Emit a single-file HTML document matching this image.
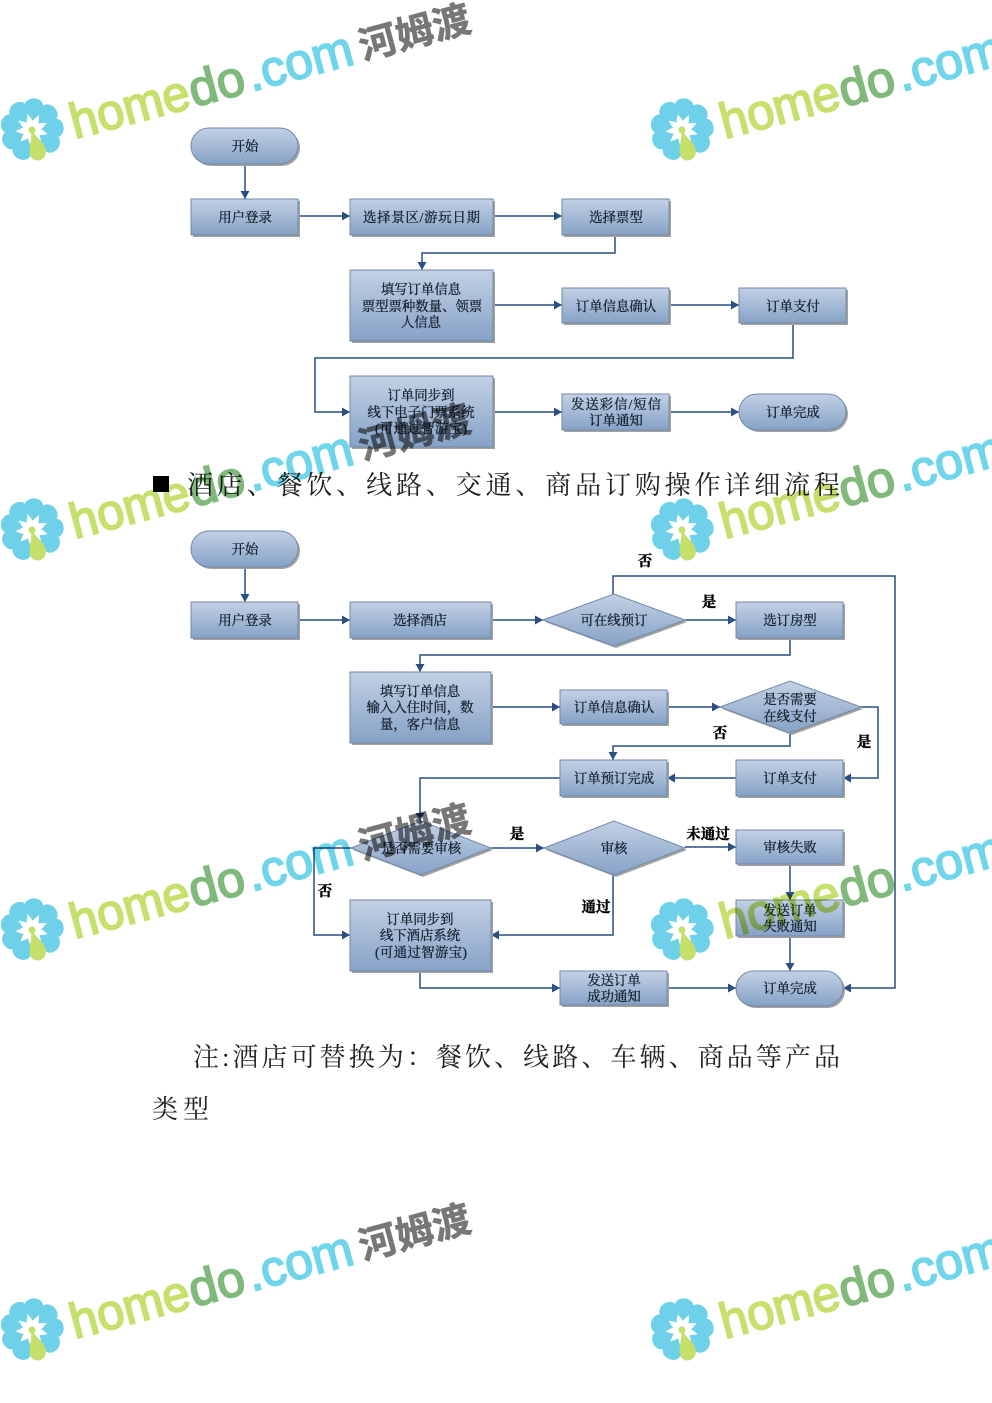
<!DOCTYPE html>
<html><head><meta charset="utf-8"><style>
html,body{margin:0;padding:0;background:#fff}
svg{display:block}
.t{font-family:"Liberation Serif","Noto Serif CJK SC",serif;font-size:13.4px;fill:#14202e;stroke:#14202e;stroke-width:.3;text-anchor:middle}
.b{font-family:"Liberation Serif","Noto Serif CJK SC",serif;font-size:14.5px;font-weight:700;fill:#000;stroke:#000;stroke-width:.4;text-anchor:middle}
.p{font-family:"Liberation Serif","Noto Serif CJK SC",serif;font-size:26px;fill:#222}
.s{fill:url(#g);stroke:#7389a8;stroke-width:1}
.sh{fill:#a2a2a2}
.c{fill:none;stroke:#2a4f80;stroke-width:1.5}
.wm{font-family:"Liberation Sans",sans-serif;font-size:50px;stroke-width:1.8}
.wc{font-family:"Liberation Sans","Noto Sans CJK SC",sans-serif;font-size:38px;font-weight:700;fill:#777;stroke:#777;stroke-width:.6}
</style></head><body>
<svg width="992" height="1403" viewBox="0 0 992 1403" xmlns="http://www.w3.org/2000/svg">
<defs>
<linearGradient id="g" x1="0" y1="0" x2="0" y2="1"><stop offset="0" stop-color="#c3d1e5"/><stop offset="1" stop-color="#86a2c6"/></linearGradient>
<marker id="a" markerWidth="10" markerHeight="10" refX="8" refY="4.5" orient="auto" markerUnits="userSpaceOnUse"><path d="M0,0 L8,4.5 L0,9 Z" fill="#2a4f80"/></marker>
<path id="pt" d="M0,-9 C-2,-13 -9.5,-17 -9.5,-23.500 C-9.500,-34.500 9.500,-34.500 9.500,-23.500 C9.500,-17 2,-13 0,-9Z"/>
<g id="wm">
<g transform="translate(32,130)">
<use href="#pt" fill="#6fd0ea" transform="rotate(5)"/><use href="#pt" fill="#6fd0ea" transform="rotate(45)"/><use href="#pt" fill="#6fd0ea" transform="rotate(85)"/><use href="#pt" fill="#6fd0ea" transform="rotate(125)"/><use href="#pt" fill="#6fd0ea" transform="rotate(205)"/><use href="#pt" fill="#6fd0ea" transform="rotate(245)"/><use href="#pt" fill="#6fd0ea" transform="rotate(285)"/><use href="#pt" fill="#6fd0ea" transform="rotate(325)"/>
<path d="M-0.800,0 L1,0 C1.500,6 14,13 14,21 C14,33 -2,34 -2.500,22 C-2.500,14 0,8 -0.800,0Z" fill="#c5df6b"/>
<circle r="3.500" fill="#c5df6b"/>
</g>
<g transform="rotate(-15 75 139)">
<text class="wm" x="75" y="139" fill="#c5e06c" stroke="#c5e06c" textLength="122" lengthAdjust="spacingAndGlyphs">home</text>
<text class="wm" x="198" y="139" fill="#80b97b" stroke="#80b97b" textLength="56" lengthAdjust="spacingAndGlyphs">do</text>
<text class="wm" x="258" y="139" fill="#70d4ea" stroke="#70d4ea" textLength="108" lengthAdjust="spacingAndGlyphs">.com</text>
</g>
<text class="wc" x="363" y="60" transform="rotate(-15 363 60)">河姆渡</text>
</g>
</defs>

<!-- connectors -->
<g>
<path class="c" marker-end="url(#a)" d="M245,164V199"/>
<path class="c" marker-end="url(#a)" d="M298,216H350"/>
<path class="c" marker-end="url(#a)" d="M493,216H562"/>
<path class="c" marker-end="url(#a)" d="M615,235V253H422V270"/>
<path class="c" marker-end="url(#a)" d="M493,305H562"/>
<path class="c" marker-end="url(#a)" d="M669,305H739"/>
<path class="c" marker-end="url(#a)" d="M793,323V358H315V412H350"/>
<path class="c" marker-end="url(#a)" d="M493,412H562"/>
<path class="c" marker-end="url(#a)" d="M669,412H739"/>
<path class="c" marker-end="url(#a)" d="M245,567V602"/>
<path class="c" marker-end="url(#a)" d="M298,620H350"/>
<path class="c" marker-end="url(#a)" d="M491,620H543"/>
<path class="c" marker-end="url(#a)" d="M685,620H736"/>
<path class="c" marker-end="url(#a)" d="M613,594V576H895V988H843"/>
<path class="c" marker-end="url(#a)" d="M790,638V655H420V672"/>
<path class="c" marker-end="url(#a)" d="M491,707H560"/>
<path class="c" marker-end="url(#a)" d="M667,707H720"/>
<path class="c" marker-end="url(#a)" d="M861,707H878V778H843"/>
<path class="c" marker-end="url(#a)" d="M790,733V746H613V760"/>
<path class="c" marker-end="url(#a)" d="M736,778H667"/>
<path class="c" marker-end="url(#a)" d="M560,778H420V821"/>
<path class="c" marker-end="url(#a)" d="M352,848H314V935H350"/>
<path class="c" marker-end="url(#a)" d="M491,848H544"/>
<path class="c" marker-end="url(#a)" d="M613,875V935H491"/>
<path class="c" marker-end="url(#a)" d="M685,847H736"/>
<path class="c" marker-end="url(#a)" d="M790,864V900"/>
<path class="c" marker-end="url(#a)" d="M790,936V971"/>
<path class="c" marker-end="url(#a)" d="M420,971V988H560"/>
<path class="c" marker-end="url(#a)" d="M667,988H736"/>
</g>

<!-- shadows -->
<g class="sh">
<rect x="193" y="130" width="107" height="36" rx="18"/>
<rect x="193" y="201" width="107" height="36"/><rect x="352" y="201" width="143" height="36"/><rect x="564" y="201" width="107" height="36"/>
<rect x="352" y="272" width="143" height="71"/><rect x="564" y="290" width="107" height="35"/><rect x="741" y="290" width="107" height="35"/>
<rect x="352" y="378" width="143" height="71"/><rect x="564" y="396" width="107" height="36"/><rect x="741" y="396" width="107" height="36" rx="18"/>
<rect x="193" y="533" width="107" height="36" rx="18"/>
<rect x="193" y="604" width="107" height="36"/><rect x="352" y="604" width="141" height="36"/><rect x="738" y="604" width="107" height="36"/>
<rect x="352" y="674" width="141" height="71"/><rect x="562" y="692" width="107" height="34"/>
<rect x="562" y="762" width="107" height="36"/><rect x="738" y="762" width="107" height="36"/>
<rect x="738" y="832" width="107" height="34"/><rect x="738" y="902" width="107" height="36"/>
<rect x="352" y="902" width="141" height="71"/><rect x="562" y="973" width="107" height="34"/><rect x="738" y="973" width="107" height="35" rx="17.500"/>
<path d="M545,622L616,596L687,622L616,648Z"/><path d="M722,709L792,683L863,709L792,735Z"/>
<path d="M353,850L423,823L493,850L423,877Z"/><path d="M546,850L616,823L687,850L616,877Z"/>
</g>

<!-- shapes -->
<g>
<rect class="s" x="191" y="128" width="107" height="36" rx="18"/>
<rect class="s" x="191" y="199" width="107" height="36"/><rect class="s" x="350" y="199" width="143" height="36"/><rect class="s" x="562" y="199" width="107" height="36"/>
<rect class="s" x="350" y="270" width="143" height="71"/><rect class="s" x="562" y="288" width="107" height="35"/><rect class="s" x="739" y="288" width="107" height="35"/>
<rect class="s" x="350" y="376" width="143" height="71"/><rect class="s" x="562" y="394" width="107" height="36"/><rect class="s" x="739" y="394" width="107" height="36" rx="18"/>
<rect class="s" x="191" y="531" width="107" height="36" rx="18"/>
<rect class="s" x="191" y="602" width="107" height="36"/><rect class="s" x="350" y="602" width="141" height="36"/><rect class="s" x="736" y="602" width="107" height="36"/>
<rect class="s" x="350" y="672" width="141" height="71"/><rect class="s" x="560" y="690" width="107" height="34"/>
<rect class="s" x="560" y="760" width="107" height="36"/><rect class="s" x="736" y="760" width="107" height="36"/>
<rect class="s" x="736" y="830" width="107" height="34"/><rect class="s" x="736" y="900" width="107" height="36"/>
<rect class="s" x="350" y="900" width="141" height="71"/><rect class="s" x="560" y="971" width="107" height="34"/><rect class="s" x="736" y="971" width="107" height="35" rx="17.500"/>
<path class="s" d="M543,620L614,594L685,620L614,646Z"/><path class="s" d="M720,707L790,681L861,707L790,733Z"/>
<path class="s" d="M351,848L421,821L491,848L421,875Z"/><path class="s" d="M544,848L614,821L685,848L614,875Z"/>
</g>

<!-- box labels -->
<g>
<text class="t" x="245" y="151">开始</text>
<text class="t" x="245" y="222">用户登录</text>
<text class="t" x="421.500" y="222" textLength="117">选择景区/游玩日期</text>
<text class="t" x="616" y="222">选择票型</text>
<text class="t" x="421" y="294">填写订单信息</text>
<text class="t" x="422" y="311">票型票种数量、领票</text>
<text class="t" x="421" y="327">人信息</text>
<text class="t" x="616" y="311">订单信息确认</text>
<text class="t" x="793" y="311">订单支付</text>
<text class="t" x="421" y="400">订单同步到</text>
<text class="t" x="421" y="417">线下电子门票系统</text>
<text class="t" x="421" y="433" textLength="92">(可通过智游宝)</text>
<text class="t" x="616" y="409" textLength="90">发送彩信/短信</text>
<text class="t" x="616" y="425">订单通知</text>
<text class="t" x="793" y="417">订单完成</text>

<text class="t" x="245" y="554">开始</text>
<text class="t" x="245" y="625">用户登录</text>
<text class="t" x="420" y="625">选择酒店</text>
<text class="t" x="614" y="625">可在线预订</text>
<text class="t" x="790" y="625">选订房型</text>
<text class="t" x="420" y="696">填写订单信息</text>
<text class="t" x="420" y="712">输入入住时间&#xFF0C;数</text>
<text class="t" x="420" y="729">量&#xFF0C;客户信息</text>
<text class="t" x="614" y="712">订单信息确认</text>
<text class="t" x="790" y="704">是否需要</text>
<text class="t" x="790" y="721">在线支付</text>
<text class="t" x="614" y="783">订单预订完成</text>
<text class="t" x="790" y="783">订单支付</text>
<text class="t" x="421" y="853">是否需要审核</text>
<text class="t" x="614" y="853">审核</text>
<text class="t" x="790" y="852">审核失败</text>
<text class="t" x="790" y="915">发送订单</text>
<text class="t" x="790" y="931">失败通知</text>
<text class="t" x="420" y="924">订单同步到</text>
<text class="t" x="420" y="940">线下酒店系统</text>
<text class="t" x="421" y="957" textLength="92">(可通过智游宝)</text>
<text class="t" x="614" y="985">发送订单</text>
<text class="t" x="614" y="1001">成功通知</text>
<text class="t" x="790" y="993">订单完成</text>
</g>

<!-- connector labels -->
<g>
<text class="b" x="645" y="566">否</text>
<text class="b" x="709" y="607">是</text>
<text class="b" x="720" y="738">否</text>
<text class="b" x="864" y="747">是</text>
<text class="b" x="517" y="839">是</text>
<text class="b" x="708" y="839">未通过</text>
<text class="b" x="325" y="896">否</text>
<text class="b" x="596" y="912">通过</text>
</g>

<!-- paragraphs -->
<rect x="153" y="476" width="16" height="16" fill="#000"/>
<text class="p" x="187" y="494" textLength="653">酒店、餐饮、线路、交通、商品订购操作详细流程</text>
<text class="p" x="193" y="1066" textLength="647">注:酒店可替换为&#xFF1A;餐饮、线路、车辆、商品等产品</text>
<text class="p" x="152" y="1118" textLength="57">类型</text>

<!-- watermarks -->
<g style="mix-blend-mode:multiply">
<use href="#wm"/><use href="#wm" x="650"/>
<use href="#wm" y="400"/><use href="#wm" x="650" y="400"/>
<use href="#wm" y="800"/><use href="#wm" x="650" y="800"/>
<use href="#wm" y="1200"/><use href="#wm" x="650" y="1200"/>
</g>
</svg>
</body></html>
